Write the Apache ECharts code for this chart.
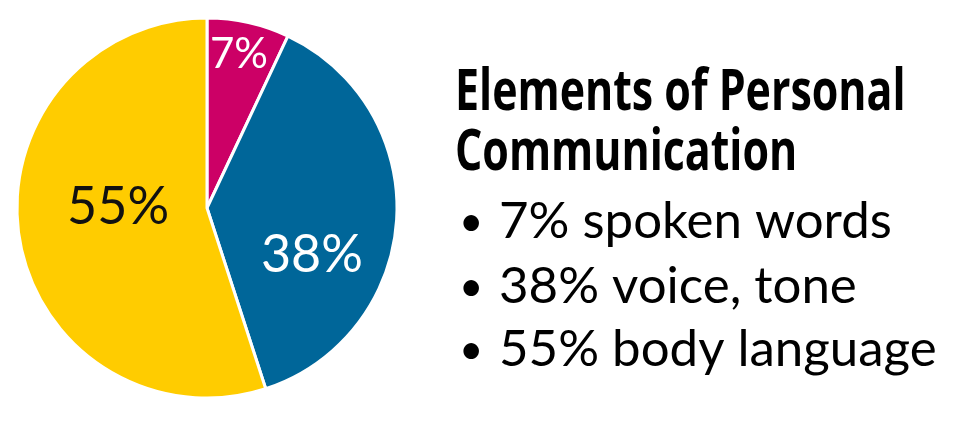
<!DOCTYPE html>
<html>
<head>
<meta charset="utf-8">
<script src="https://cdn.jsdelivr.net/npm/echarts@6/dist/echarts.min.js"></script>
<style>
html,body{margin:0;padding:0;background:#fff;}
#chart{width:975px;height:421px;}
</style>
</head>
<body>
<div id="chart"></div>
<script>
// ---- data ----
var categories = ['spoken words', 'voice, tone', 'body language'];
var values = [7, 38, 55];
var titleLines = ['Elements of Personal', 'Communication'];

// ---- styling / layout ----
var colors = ['#CC0066', '#006699', '#FFCC00'];
var labelColors = ['#ffffff', '#ffffff', '#111111'];
var labelSizes = [42, 52, 52];
// label placement: [angle clockwise from 12 o'clock (deg), radius fraction]
var labelPolar = [[11.8, 0.823], [114.1, 0.605], [270.6, 0.468]];
var CX = 207, CY = 208, R = 190;
var FONT = 'Lato, "Noto Sans", sans-serif';
var TITLE_FONT = '"Open Sans", Lato, sans-serif';

var chart = echarts.init(document.getElementById('chart'), null, {renderer: 'canvas'});

var pieData = categories.map(function (c, i) {
  return {
    name: c,
    value: values[i],
    itemStyle: {color: colors[i]},
    label: {color: labelColors[i], fontSize: labelSizes[i]}
  };
});

var graphics = [];
var titleY = [93, 153];
titleLines.forEach(function (t, i) {
  graphics.push({
    type: 'text',
    x: 455, y: titleY[i],
    scaleX: 0.74, scaleY: 1,
    style: {
      text: t, x: 0, y: 0,
      font: 'bold 58px ' + TITLE_FONT,
      fill: '#000', align: 'left', verticalAlign: 'middle'
    }
  });
});
var bulletY = [222, 287, 350];
categories.forEach(function (c, i) {
  graphics.push({
    type: 'text', x: 459, y: bulletY[i],
    style: {text: '\u2022', x: 0, y: 0, font: '42px ' + FONT, fill: '#000', align: 'left', verticalAlign: 'middle'}
  });
  graphics.push({
    type: 'text', x: 499, y: bulletY[i],
    style: {text: values[i] + '% ' + c, x: 0, y: 0, font: '51px ' + FONT, fill: '#000', align: 'left', verticalAlign: 'middle'}
  });
});

chart.setOption({
  animation: false,
  backgroundColor: '#ffffff',
  series: [{
    type: 'pie',
    center: [CX, CY],
    radius: [0, R],
    startAngle: 90,
    clockwise: true,
    avoidLabelOverlap: false,
    itemStyle: {borderColor: '#ffffff', borderWidth: 3},
    label: {
      show: true,
      position: 'inside',
      formatter: '{c}%',
      fontFamily: FONT,
      fontWeight: 'normal'
    },
    labelLine: {show: false},
    emphasis: {disabled: true},
    labelLayout: function (p) {
      var lp = labelPolar[p.dataIndex];
      var a = lp[0] * Math.PI / 180;
      return {
        x: CX + lp[1] * R * Math.sin(a),
        y: CY - lp[1] * R * Math.cos(a),
        align: 'center',
        verticalAlign: 'middle'
      };
    },
    data: pieData
  }],
  graphic: graphics
});
</script>
</body>
</html>
